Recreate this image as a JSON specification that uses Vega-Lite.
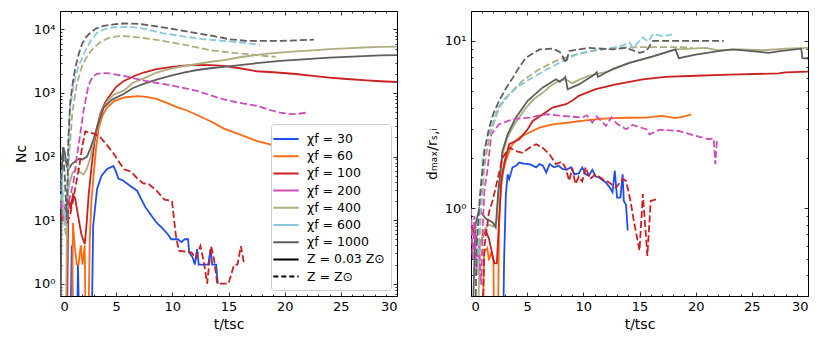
{
"$schema": "https://vega.github.io/schema/vega-lite/v6.json",
"background": "white",
"padding": {"left": 13, "top": 10, "right": 5, "bottom": 5},
"spacing": 26,
"config": {
  "view": {"stroke": "black", "strokeWidth": 1},
  "font": "DejaVu Sans",
  "axis": {"labelFont": "DejaVu Sans", "titleFont": "DejaVu Sans", "labelFontSize": 13, "titleFontSize": 14, "titleFontWeight": "normal", "labelColor": "black", "titleColor": "black", "tickColor": "black", "tickWidth": 0.8, "domain": false, "grid": false}
},
"resolve": {"scale": {"x": "independent", "y": "independent", "color": "independent", "strokeDash": "independent"}},
"datasets": {
  "leg": [
    {"c":"30","t":1,"v":1},{"c":"60","t":1,"v":1},{"c":"100","t":1,"v":1},{"c":"200","t":1,"v":1},{"c":"400","t":1,"v":1},{"c":"600","t":1,"v":1},{"c":"1000","t":1,"v":1},{"c":"lo","t":1,"v":1},{"c":"sun","t":1,"v":1}
  ],
  "Nlo": [
    {"c":"30","t":0.9,"v":0.1},{"c":"30","t":1.05,"v":4},{"c":"30","t":1.2,"v":0.1},{"c":"30","t":1.5,"v":0.1},{"c":"30","t":1.6,"v":2},{"c":"30","t":1.75,"v":0.1},{"c":"30","t":2.8,"v":0.1},{"c":"30","t":2.95,"v":8},{"c":"30","t":3.3,"v":31},{"c":"30","t":3.7,"v":50},{"c":"30","t":4.2,"v":64},{"c":"30","t":4.75,"v":71},{"c":"30","t":4.95,"v":60},{"c":"30","t":5.2,"v":45},{"c":"30","t":5.6,"v":42},{"c":"30","t":6.2,"v":35},{"c":"30","t":6.86,"v":29},{"c":"30","t":7.2,"v":22},{"c":"30","t":7.6,"v":16},{"c":"30","t":8.1,"v":12},{"c":"30","t":8.6,"v":9.1},{"c":"30","t":9.1,"v":7.5},{"c":"30","t":9.6,"v":6},{"c":"30","t":9.9,"v":5},{"c":"30","t":10.5,"v":5},{"c":"30","t":10.8,"v":4.5},{"c":"30","t":11.1,"v":5},{"c":"30","t":11.4,"v":5},{"c":"30","t":11.5,"v":3.1},{"c":"30","t":11.8,"v":2.6},{"c":"30","t":12.0,"v":2},{"c":"30","t":12.2,"v":3.5},{"c":"30","t":12.35,"v":2},{"c":"30","t":12.9,"v":2},{"c":"30","t":13.2,"v":2},{"c":"30","t":13.4,"v":3.5},{"c":"30","t":13.55,"v":2},{"c":"30","t":13.9,"v":2},{"c":"30","t":14.05,"v":1},
    {"c":"60","t":1.05,"v":0.1},{"c":"60","t":1.15,"v":9},{"c":"60","t":1.3,"v":4},{"c":"60","t":1.5,"v":2},{"c":"60","t":1.65,"v":2},{"c":"60","t":1.85,"v":4},{"c":"60","t":2.0,"v":2},{"c":"60","t":2.2,"v":4},{"c":"60","t":2.3,"v":0.1},{"c":"60","t":2.5,"v":0.1},{"c":"60","t":2.65,"v":5},{"c":"60","t":2.8,"v":20},{"c":"60","t":3.0,"v":53},{"c":"60","t":3.2,"v":130},{"c":"60","t":3.45,"v":288},{"c":"60","t":3.8,"v":450},{"c":"60","t":4.2,"v":590},{"c":"60","t":4.8,"v":740},{"c":"60","t":5.7,"v":850},{"c":"60","t":6.9,"v":890},{"c":"60","t":7.7,"v":870},{"c":"60","t":8.6,"v":810},{"c":"60","t":9.5,"v":700},{"c":"60","t":10.4,"v":600},{"c":"60","t":11.3,"v":530},{"c":"60","t":12.2,"v":450},{"c":"60","t":13.4,"v":360},{"c":"60","t":14.6,"v":275},{"c":"60","t":15.5,"v":240},{"c":"60","t":16.4,"v":210},{"c":"60","t":17.5,"v":176},{"c":"60","t":18.7,"v":155},{"c":"60","t":19.6,"v":138},{"c":"60","t":19.8,"v":130},
    {"c":"100","t":0.6,"v":0.1},{"c":"100","t":0.75,"v":25},{"c":"100","t":0.95,"v":15},{"c":"100","t":1.15,"v":25},{"c":"100","t":1.35,"v":22},{"c":"100","t":1.6,"v":12},{"c":"100","t":1.9,"v":6},{"c":"100","t":2.2,"v":4.2},{"c":"100","t":2.35,"v":8},{"c":"100","t":2.55,"v":25},{"c":"100","t":2.8,"v":67},{"c":"100","t":3.05,"v":160},{"c":"100","t":3.3,"v":290},{"c":"100","t":3.6,"v":480},{"c":"100","t":4.0,"v":700},{"c":"100","t":4.5,"v":950},{"c":"100","t":5.0,"v":1250},{"c":"100","t":5.7,"v":1550},{"c":"100","t":6.6,"v":1850},{"c":"100","t":7.45,"v":2100},{"c":"100","t":8.5,"v":2350},{"c":"100","t":9.8,"v":2550},{"c":"100","t":11.0,"v":2700},{"c":"100","t":12.2,"v":2760},{"c":"100","t":13.4,"v":2750},{"c":"100","t":14.6,"v":2680},{"c":"100","t":16.0,"v":2450},{"c":"100","t":17.5,"v":2200},{"c":"100","t":19.0,"v":2120},{"c":"100","t":21.0,"v":1990},{"c":"100","t":22.5,"v":1860},{"c":"100","t":24.0,"v":1740},{"c":"100","t":25.5,"v":1660},{"c":"100","t":27.0,"v":1590},{"c":"100","t":28.5,"v":1530},{"c":"100","t":30.0,"v":1490},
    {"c":"400","t":0.5,"v":0.1},{"c":"400","t":0.65,"v":20},{"c":"400","t":0.8,"v":35},{"c":"400","t":1.1,"v":55},{"c":"400","t":1.5,"v":65},{"c":"400","t":1.8,"v":56},{"c":"400","t":2.1,"v":52},{"c":"400","t":2.4,"v":65},{"c":"400","t":2.7,"v":96},{"c":"400","t":3.0,"v":170},{"c":"400","t":3.3,"v":290},{"c":"400","t":3.56,"v":430},{"c":"400","t":3.86,"v":590},{"c":"400","t":4.3,"v":780},{"c":"400","t":4.75,"v":930},{"c":"400","t":5.7,"v":1100},{"c":"400","t":6.5,"v":1450},{"c":"400","t":7.45,"v":1700},{"c":"400","t":8.6,"v":2100},{"c":"400","t":9.8,"v":2400},{"c":"400","t":11.0,"v":2650},{"c":"400","t":12.2,"v":2860},{"c":"400","t":13.4,"v":3100},{"c":"400","t":14.6,"v":3300},{"c":"400","t":16.0,"v":3650},{"c":"400","t":17.5,"v":3970},{"c":"400","t":19.0,"v":4250},{"c":"400","t":21.0,"v":4500},{"c":"400","t":22.5,"v":4700},{"c":"400","t":24.0,"v":4900},{"c":"400","t":25.5,"v":5050},{"c":"400","t":27.0,"v":5200},{"c":"400","t":28.5,"v":5300},{"c":"400","t":30.0,"v":5350},
    {"c":"1000","t":0.05,"v":0.1},{"c":"1000","t":0.15,"v":60},{"c":"1000","t":0.3,"v":140},{"c":"1000","t":0.45,"v":110},{"c":"1000","t":0.6,"v":70},{"c":"1000","t":0.75,"v":63},{"c":"1000","t":1.07,"v":77},{"c":"1000","t":1.4,"v":85},{"c":"1000","t":1.66,"v":92},{"c":"1000","t":2.0,"v":90},{"c":"1000","t":2.4,"v":100},{"c":"1000","t":2.67,"v":130},{"c":"1000","t":3.0,"v":190},{"c":"1000","t":3.4,"v":330},{"c":"1000","t":3.9,"v":590},{"c":"1000","t":4.6,"v":780},{"c":"1000","t":5.7,"v":970},{"c":"1000","t":6.5,"v":1200},{"c":"1000","t":7.45,"v":1390},{"c":"1000","t":8.6,"v":1620},{"c":"1000","t":9.8,"v":1860},{"c":"1000","t":11.0,"v":2100},{"c":"1000","t":12.2,"v":2300},{"c":"1000","t":13.4,"v":2450},{"c":"1000","t":14.6,"v":2570},{"c":"1000","t":16.0,"v":2750},{"c":"1000","t":17.5,"v":2940},{"c":"1000","t":19.6,"v":3200},{"c":"1000","t":21.0,"v":3330},{"c":"1000","t":22.6,"v":3470},{"c":"1000","t":24.0,"v":3600},{"c":"1000","t":25.5,"v":3700},{"c":"1000","t":27.0,"v":3800},{"c":"1000","t":28.5,"v":3900},{"c":"1000","t":30.0,"v":3950}
  ],
  "Nsun": [
    {"c":"100","t":0.05,"v":12},{"c":"100","t":0.3,"v":10},{"c":"100","t":0.6,"v":9},{"c":"100","t":0.9,"v":12},{"c":"100","t":1.15,"v":20},{"c":"100","t":1.4,"v":35},{"c":"100","t":1.7,"v":67},{"c":"100","t":1.96,"v":138},{"c":"100","t":2.25,"v":250},{"c":"100","t":2.6,"v":240},{"c":"100","t":3.0,"v":230},{"c":"100","t":3.6,"v":200},{"c":"100","t":4.2,"v":150},{"c":"100","t":4.8,"v":110},{"c":"100","t":5.3,"v":80},{"c":"100","t":5.7,"v":63},{"c":"100","t":6.3,"v":58},{"c":"100","t":6.9,"v":45},{"c":"100","t":7.4,"v":38},{"c":"100","t":7.9,"v":37},{"c":"100","t":8.6,"v":29},{"c":"100","t":9.3,"v":21},{"c":"100","t":9.97,"v":20},{"c":"100","t":10.3,"v":6},{"c":"100","t":10.57,"v":3.3},{"c":"100","t":11.7,"v":3.1},{"c":"100","t":12.1,"v":2.5},{"c":"100","t":12.5,"v":3.9},{"c":"100","t":12.8,"v":2.2},{"c":"100","t":13.1,"v":1},{"c":"100","t":13.45,"v":3.9},{"c":"100","t":13.7,"v":2.5},{"c":"100","t":14.0,"v":1},{"c":"100","t":15.0,"v":1},{"c":"100","t":15.5,"v":2},{"c":"100","t":15.8,"v":2},{"c":"100","t":16.1,"v":3.9},{"c":"100","t":16.4,"v":2},
    {"c":"200","t":0.0,"v":15},{"c":"200","t":0.15,"v":25},{"c":"200","t":0.3,"v":10},{"c":"200","t":0.45,"v":18},{"c":"200","t":0.6,"v":12},{"c":"200","t":0.8,"v":20},{"c":"200","t":1.2,"v":40},{"c":"200","t":1.5,"v":100},{"c":"200","t":1.8,"v":225},{"c":"200","t":2.1,"v":525},{"c":"200","t":2.5,"v":1230},{"c":"200","t":2.7,"v":1550},{"c":"200","t":3.0,"v":1850},{"c":"200","t":3.3,"v":2000},{"c":"200","t":3.8,"v":2050},{"c":"200","t":4.2,"v":2050},{"c":"200","t":5.0,"v":1950},{"c":"200","t":5.7,"v":1860},{"c":"200","t":6.6,"v":1700},{"c":"200","t":7.6,"v":1550},{"c":"200","t":8.5,"v":1450},{"c":"200","t":9.4,"v":1370},{"c":"200","t":10.8,"v":1220},{"c":"200","t":12.2,"v":1080},{"c":"200","t":13.4,"v":920},{"c":"200","t":14.6,"v":790},{"c":"200","t":16.0,"v":700},{"c":"200","t":17.5,"v":630},{"c":"200","t":18.7,"v":540},{"c":"200","t":19.6,"v":490},{"c":"200","t":20.5,"v":465},{"c":"200","t":21.2,"v":470},{"c":"200","t":21.9,"v":490},
    {"c":"400","t":0.0,"v":20},{"c":"400","t":0.2,"v":25},{"c":"400","t":0.4,"v":8},{"c":"400","t":0.6,"v":5},{"c":"400","t":0.8,"v":100},{"c":"400","t":1.1,"v":500},{"c":"400","t":1.5,"v":1400},{"c":"400","t":2.0,"v":2800},{"c":"400","t":2.55,"v":4100},{"c":"400","t":3.0,"v":5200},{"c":"400","t":3.6,"v":6300},{"c":"400","t":4.2,"v":7200},{"c":"400","t":4.9,"v":7700},{"c":"400","t":5.6,"v":7900},{"c":"400","t":6.3,"v":7700},{"c":"400","t":7.2,"v":7400},{"c":"400","t":8.3,"v":7000},{"c":"400","t":9.8,"v":6300},{"c":"400","t":11.6,"v":5500},{"c":"400","t":13.4,"v":4700},{"c":"400","t":15.1,"v":4350},{"c":"400","t":16.6,"v":4100},{"c":"400","t":18.1,"v":3850},{"c":"400","t":19.2,"v":3700},
    {"c":"600","t":0.0,"v":20},{"c":"600","t":0.15,"v":60},{"c":"600","t":0.3,"v":20},{"c":"600","t":0.5,"v":8},{"c":"600","t":0.7,"v":40},{"c":"600","t":0.85,"v":500},{"c":"600","t":1.2,"v":1300},{"c":"600","t":1.6,"v":2500},{"c":"600","t":2.25,"v":4600},{"c":"600","t":2.7,"v":6500},{"c":"600","t":3.3,"v":8900},{"c":"600","t":3.86,"v":9900},{"c":"600","t":4.45,"v":10700},{"c":"600","t":6.0,"v":11000},{"c":"600","t":7.0,"v":10600},{"c":"600","t":7.7,"v":10000},{"c":"600","t":9.2,"v":8700},{"c":"600","t":10.7,"v":7900},{"c":"600","t":12.8,"v":7000},{"c":"600","t":15.1,"v":6500},{"c":"600","t":16.9,"v":6000},{"c":"600","t":17.8,"v":5700},
    {"c":"1000","t":0.05,"v":30},{"c":"1000","t":0.25,"v":140},{"c":"1000","t":0.45,"v":40},{"c":"1000","t":0.6,"v":10},{"c":"1000","t":0.75,"v":200},{"c":"1000","t":0.92,"v":750},{"c":"1000","t":1.15,"v":1500},{"c":"1000","t":1.37,"v":2500},{"c":"1000","t":1.65,"v":4000},{"c":"1000","t":1.96,"v":5900},{"c":"1000","t":2.3,"v":7500},{"c":"1000","t":2.7,"v":8900},{"c":"1000","t":3.2,"v":10300},{"c":"1000","t":3.9,"v":11400},{"c":"1000","t":4.8,"v":12000},{"c":"1000","t":5.7,"v":12400},{"c":"1000","t":7.1,"v":12200},{"c":"1000","t":8.3,"v":11400},{"c":"1000","t":10.1,"v":10100},{"c":"1000","t":11.9,"v":8900},{"c":"1000","t":13.6,"v":7900},{"c":"1000","t":15.1,"v":7000},{"c":"1000","t":16.6,"v":6600},{"c":"1000","t":19.6,"v":6600},{"c":"1000","t":22.6,"v":6900}
  ],
  "Dlo": [
    {"c":"30","t":2.8,"v":0.1},{"c":"30","t":2.95,"v":0.5},{"c":"30","t":3.1,"v":1.2},{"c":"30","t":3.26,"v":1.6},{"c":"30","t":3.4,"v":1.5},{"c":"30","t":3.7,"v":1.76},{"c":"30","t":4.0,"v":1.8},{"c":"30","t":4.3,"v":1.88},{"c":"30","t":4.7,"v":1.85},{"c":"30","t":5.2,"v":1.84},{"c":"30","t":5.5,"v":1.8},{"c":"30","t":5.8,"v":1.76},{"c":"30","t":6.1,"v":1.84},{"c":"30","t":6.4,"v":1.8},{"c":"30","t":6.7,"v":1.64},{"c":"30","t":7.0,"v":1.84},{"c":"30","t":7.4,"v":1.76},{"c":"30","t":7.8,"v":1.8},{"c":"30","t":8.15,"v":1.72},{"c":"30","t":8.5,"v":1.7},{"c":"30","t":8.9,"v":1.76},{"c":"30","t":9.2,"v":1.6},{"c":"30","t":9.6,"v":1.62},{"c":"30","t":9.9,"v":1.76},{"c":"30","t":10.2,"v":1.6},{"c":"30","t":10.5,"v":1.57},{"c":"30","t":10.8,"v":1.7},{"c":"30","t":11.1,"v":1.55},{"c":"30","t":11.4,"v":1.53},{"c":"30","t":12.0,"v":1.43},{"c":"30","t":12.3,"v":1.35},{"c":"30","t":12.6,"v":1.25},{"c":"30","t":12.8,"v":1.68},{"c":"30","t":13.0,"v":1.16},{"c":"30","t":13.3,"v":1.16},{"c":"30","t":13.5,"v":1.6},{"c":"30","t":13.6,"v":1.11},{"c":"30","t":13.8,"v":1.05},{"c":"30","t":13.95,"v":0.74},
    {"c":"60","t":1.0,"v":0.1},{"c":"60","t":1.15,"v":0.55},{"c":"60","t":1.45,"v":0.58},{"c":"60","t":1.6,"v":0.49},{"c":"60","t":1.8,"v":0.55},{"c":"60","t":2.0,"v":0.48},{"c":"60","t":2.1,"v":0.1},{"c":"60","t":2.35,"v":0.1},{"c":"60","t":2.5,"v":0.8},{"c":"60","t":2.67,"v":1.33},{"c":"60","t":2.9,"v":1.7},{"c":"60","t":3.1,"v":1.92},{"c":"60","t":3.4,"v":2.2},{"c":"60","t":3.7,"v":2.42},{"c":"60","t":4.3,"v":2.65},{"c":"60","t":5.2,"v":2.84},{"c":"60","t":6.1,"v":3.04},{"c":"60","t":7.26,"v":3.18},{"c":"60","t":8.75,"v":3.26},{"c":"60","t":10.2,"v":3.36},{"c":"60","t":11.4,"v":3.42},{"c":"60","t":12.6,"v":3.46},{"c":"60","t":14.0,"v":3.48},{"c":"60","t":15.6,"v":3.49},{"c":"60","t":17.0,"v":3.57},{"c":"60","t":18.2,"v":3.46},{"c":"60","t":19.0,"v":3.55},{"c":"60","t":19.6,"v":3.65},
    {"c":"100","t":0.0,"v":0.8},{"c":"100","t":0.3,"v":0.7},{"c":"100","t":0.8,"v":0.62},{"c":"100","t":1.3,"v":0.74},{"c":"100","t":1.6,"v":0.66},{"c":"100","t":1.8,"v":0.57},{"c":"100","t":2.08,"v":0.47},{"c":"100","t":2.3,"v":0.47},{"c":"100","t":2.5,"v":0.85},{"c":"100","t":2.7,"v":1.5},{"c":"100","t":3.0,"v":1.92},{"c":"100","t":3.4,"v":2.42},{"c":"100","t":4.3,"v":2.59},{"c":"100","t":5.04,"v":2.97},{"c":"100","t":5.5,"v":3.33},{"c":"100","t":6.4,"v":3.65},{"c":"100","t":7.26,"v":4.0},{"c":"100","t":8.45,"v":4.19},{"c":"100","t":9.0,"v":4.39},{"c":"100","t":9.6,"v":4.7},{"c":"100","t":11.1,"v":5.15},{"c":"100","t":12.9,"v":5.5},{"c":"100","t":15.3,"v":5.9},{"c":"100","t":17.3,"v":6.1},{"c":"100","t":20.0,"v":6.2},{"c":"100","t":23.0,"v":6.3},{"c":"100","t":27.4,"v":6.4},{"c":"100","t":28.0,"v":6.5},{"c":"100","t":30.0,"v":6.56},
    {"c":"400","t":0.5,"v":0.1},{"c":"400","t":0.8,"v":0.6},{"c":"400","t":1.2,"v":0.75},{"c":"400","t":1.6,"v":0.8},{"c":"400","t":2.0,"v":0.78},{"c":"400","t":2.3,"v":0.85},{"c":"400","t":2.5,"v":1.4},{"c":"400","t":2.8,"v":2.1},{"c":"400","t":3.2,"v":2.6},{"c":"400","t":3.7,"v":3.04},{"c":"400","t":4.3,"v":3.5},{"c":"400","t":4.9,"v":4.0},{"c":"400","t":5.6,"v":4.5},{"c":"400","t":6.37,"v":4.9},{"c":"400","t":7.1,"v":5.4},{"c":"400","t":7.86,"v":5.8},{"c":"400","t":8.45,"v":5.9},{"c":"400","t":9.0,"v":5.6},{"c":"400","t":9.7,"v":5.9},{"c":"400","t":10.5,"v":6.2},{"c":"400","t":12.3,"v":6.6},{"c":"400","t":14.1,"v":7.4},{"c":"400","t":16.2,"v":8.1},{"c":"400","t":18.2,"v":8.9},{"c":"400","t":19.5,"v":9.0},{"c":"400","t":20.9,"v":9.1},{"c":"400","t":22.0,"v":8.8},{"c":"400","t":24.0,"v":8.9},{"c":"400","t":26.0,"v":8.8},{"c":"400","t":28.0,"v":9.0},{"c":"400","t":30.0,"v":9.1},
    {"c":"1000","t":0.0,"v":0.1},{"c":"1000","t":0.4,"v":0.8},{"c":"1000","t":0.74,"v":1.0},{"c":"1000","t":0.9,"v":0.95},{"c":"1000","t":1.3,"v":0.87},{"c":"1000","t":1.6,"v":0.85},{"c":"1000","t":1.93,"v":0.825},{"c":"1000","t":2.2,"v":0.77},{"c":"1000","t":2.4,"v":1.2},{"c":"1000","t":2.6,"v":1.6},{"c":"1000","t":2.8,"v":2.2},{"c":"1000","t":3.26,"v":2.77},{"c":"1000","t":4.0,"v":3.49},{"c":"1000","t":5.04,"v":4.39},{"c":"1000","t":6.37,"v":5.26},{"c":"1000","t":7.56,"v":5.9},{"c":"1000","t":7.9,"v":5.7},{"c":"1000","t":8.4,"v":6.1},{"c":"1000","t":8.6,"v":5.15},{"c":"1000","t":9.6,"v":5.5},{"c":"1000","t":11.0,"v":6.3},{"c":"1000","t":11.2,"v":6.5},{"c":"1000","t":11.3,"v":6.1},{"c":"1000","t":12.6,"v":6.8},{"c":"1000","t":14.1,"v":7.4},{"c":"1000","t":16.2,"v":8.1},{"c":"1000","t":18.2,"v":8.9},{"c":"1000","t":18.5,"v":7.9},{"c":"1000","t":20.0,"v":8.3},{"c":"1000","t":22.0,"v":8.7},{"c":"1000","t":23.3,"v":8.9},{"c":"1000","t":25.0,"v":8.7},{"c":"1000","t":26.5,"v":8.5},{"c":"1000","t":27.5,"v":8.7},{"c":"1000","t":29.4,"v":9.0},{"c":"1000","t":29.5,"v":7.9},{"c":"1000","t":30.0,"v":7.85}
  ],
  "Dsun": [
    {"c":"100","t":0.9,"v":0.1},{"c":"100","t":1.2,"v":0.6},{"c":"100","t":1.6,"v":0.95},{"c":"100","t":1.9,"v":1.1},{"c":"100","t":2.2,"v":1.33},{"c":"100","t":2.8,"v":2.0},{"c":"100","t":3.4,"v":2.31},{"c":"100","t":4.0,"v":2.2},{"c":"100","t":4.6,"v":2.15},{"c":"100","t":5.2,"v":2.3},{"c":"100","t":5.8,"v":2.42},{"c":"100","t":6.4,"v":2.3},{"c":"100","t":7.0,"v":2.1},{"c":"100","t":7.56,"v":1.84},{"c":"100","t":8.1,"v":1.9},{"c":"100","t":8.4,"v":1.75},{"c":"100","t":8.75,"v":1.46},{"c":"100","t":9.0,"v":1.75},{"c":"100","t":9.3,"v":1.4},{"c":"100","t":9.6,"v":1.55},{"c":"100","t":9.9,"v":1.45},{"c":"100","t":10.2,"v":1.76},{"c":"100","t":10.6,"v":1.5},{"c":"100","t":11.1,"v":1.6},{"c":"100","t":11.7,"v":1.5},{"c":"100","t":12.3,"v":1.43},{"c":"100","t":12.9,"v":1.33},{"c":"100","t":13.5,"v":1.5},{"c":"100","t":13.8,"v":1.46},{"c":"100","t":14.2,"v":1.11},{"c":"100","t":14.5,"v":0.84},{"c":"100","t":15.0,"v":0.56},{"c":"100","t":15.3,"v":1.22},{"c":"100","t":15.7,"v":0.52},{"c":"100","t":16.0,"v":1.11},{"c":"100","t":16.6,"v":1.14},
    {"c":"200","t":0.0,"v":1.0},{"c":"200","t":0.15,"v":0.5},{"c":"200","t":0.3,"v":0.9},{"c":"200","t":0.5,"v":0.4},{"c":"200","t":0.7,"v":0.6},{"c":"200","t":0.9,"v":0.35},{"c":"200","t":1.05,"v":0.8},{"c":"200","t":1.2,"v":1.3},{"c":"200","t":1.5,"v":1.76},{"c":"200","t":1.8,"v":2.77},{"c":"200","t":2.5,"v":3.18},{"c":"200","t":3.7,"v":3.41},{"c":"200","t":5.2,"v":3.49},{"c":"200","t":6.7,"v":3.65},{"c":"200","t":8.15,"v":3.57},{"c":"200","t":9.9,"v":3.49},{"c":"200","t":10.3,"v":3.6},{"c":"200","t":10.8,"v":3.26},{"c":"200","t":11.2,"v":3.55},{"c":"200","t":12.0,"v":3.11},{"c":"200","t":12.5,"v":3.5},{"c":"200","t":13.0,"v":3.2},{"c":"200","t":13.8,"v":2.97},{"c":"200","t":14.4,"v":3.15},{"c":"200","t":15.6,"v":2.97},{"c":"200","t":15.9,"v":2.77},{"c":"200","t":16.8,"v":2.95},{"c":"200","t":18.5,"v":2.9},{"c":"200","t":20.0,"v":2.71},{"c":"200","t":21.2,"v":2.59},{"c":"200","t":21.6,"v":2.62},{"c":"200","t":21.75,"v":1.84},{"c":"200","t":21.9,"v":2.59},
    {"c":"400","t":0.6,"v":0.4},{"c":"400","t":0.9,"v":1.0},{"c":"400","t":1.2,"v":1.8},{"c":"400","t":1.5,"v":2.4},{"c":"400","t":1.9,"v":3.04},{"c":"400","t":2.5,"v":4.0},{"c":"400","t":3.4,"v":4.8},{"c":"400","t":4.6,"v":5.8},{"c":"400","t":6.1,"v":6.8},{"c":"400","t":7.56,"v":7.6},{"c":"400","t":9.3,"v":8.3},{"c":"400","t":10.8,"v":8.7},{"c":"400","t":12.6,"v":9.1},{"c":"400","t":15.6,"v":9.2},{"c":"400","t":18.5,"v":9.2},{"c":"400","t":19.7,"v":9.1},
    {"c":"600","t":0.5,"v":0.4},{"c":"600","t":0.8,"v":1.0},{"c":"600","t":1.04,"v":2.0},{"c":"600","t":1.2,"v":2.3},{"c":"600","t":1.5,"v":2.7},{"c":"600","t":1.8,"v":3.04},{"c":"600","t":2.4,"v":4.0},{"c":"600","t":3.1,"v":4.6},{"c":"600","t":4.3,"v":5.4},{"c":"600","t":5.2,"v":5.9},{"c":"600","t":7.0,"v":6.9},{"c":"600","t":8.75,"v":7.95},{"c":"600","t":9.6,"v":8.4},{"c":"600","t":10.5,"v":8.7},{"c":"600","t":12.6,"v":9.1},{"c":"600","t":13.5,"v":9.4},{"c":"600","t":14.1,"v":9.8},{"c":"600","t":14.4,"v":9.1},{"c":"600","t":15.3,"v":10.5},{"c":"600","t":15.8,"v":9.9},{"c":"600","t":16.2,"v":11.0},{"c":"600","t":17.0,"v":10.7},{"c":"600","t":17.9,"v":10.9},
    {"c":"1000","t":0.3,"v":0.1},{"c":"1000","t":0.5,"v":0.6},{"c":"1000","t":0.8,"v":1.2},{"c":"1000","t":1.2,"v":2.2},{"c":"1000","t":1.6,"v":3.0},{"c":"1000","t":2.0,"v":3.7},{"c":"1000","t":2.5,"v":4.39},{"c":"1000","t":3.1,"v":5.2},{"c":"1000","t":3.7,"v":6.0},{"c":"1000","t":4.3,"v":7.0},{"c":"1000","t":4.9,"v":7.95},{"c":"1000","t":6.1,"v":8.9},{"c":"1000","t":7.26,"v":9.0},{"c":"1000","t":7.9,"v":8.6},{"c":"1000","t":8.15,"v":8.1},{"c":"1000","t":8.45,"v":7.4},{"c":"1000","t":8.75,"v":8.7},{"c":"1000","t":9.6,"v":8.9},{"c":"1000","t":10.5,"v":9.1},{"c":"1000","t":12.6,"v":8.9},{"c":"1000","t":13.8,"v":9.1},{"c":"1000","t":15.0,"v":8.5},{"c":"1000","t":15.6,"v":8.7},{"c":"1000","t":16.2,"v":10.0},{"c":"1000","t":18.5,"v":10.0},{"c":"1000","t":22.5,"v":10.0}
  ]
},
"hconcat": [
  {
    "width": 337, "height": 285,
    "resolve": {"axis": {"x": "independent", "y": "independent"}},
    "layer": [
      {
        "data": {"name": "Nlo"},
        "mark": {"type": "line", "clip": true, "strokeWidth": 1.8},
        "encoding": {
          "x": {"field": "t", "type": "quantitative", "scale": {"domain": [0, 30], "nice": false, "zero": false}, "axis": {"orient": "bottom", "values": [0,5,10,15,20,25,30], "tickSize": -4, "labelPadding": 8, "title": "t/tsc", "titlePadding": 4}},
          "y": {"field": "v", "type": "quantitative", "scale": {"type": "log", "domain": [0.64, 19500], "nice": false}, "axis": {"orient": "left", "values": [1,10,100,1000,10000], "tickSize": -4, "labelPadding": 9, "labelExpr": "'10' + ['⁰','¹','²','³','⁴'][round(log(datum.value)/LN10)]", "title": "Nc", "titlePadding": 5}},
          "color": {"field": "c", "type": "nominal", "scale": {"domain": ["30","60","100","200","400","600","1000","lo","sun"], "range": ["#1f4ef0","#ff6a13","#cc1f1f","#cc4cbb","#afad80","#88c6e2","#5e5e5e","#000000","#000000"]}}
        }
      },
      {
        "data": {"name": "Nsun"},
        "mark": {"type": "line", "clip": true, "strokeWidth": 1.8, "strokeDash": [7, 3]},
        "encoding": {
          "x": {"field": "t", "type": "quantitative", "axis": {"orient": "top", "values": [0,5,10,15,20,25,30], "tickSize": -4, "labels": false, "title": null}},
          "y": {"field": "v", "type": "quantitative", "axis": {"orient": "right", "values": [1,10,100,1000,10000], "tickSize": -4, "labels": false, "title": null}},
          "color": {"field": "c", "type": "nominal", "scale": {"domain": ["30","60","100","200","400","600","1000","lo","sun"], "range": ["#1f4ef0","#ff6a13","#cc1f1f","#cc4cbb","#afad80","#88c6e2","#5e5e5e","#000000","#000000"]}}
        }
      },
      {
        "data": {"name": "leg"},
        "mark": {"type": "line", "strokeWidth": 2},
        "encoding": {
          "x": {"field": "t", "type": "quantitative", "axis": {"orient": "bottom", "values": [1,2,3,4,6,7,8,9,11,12,13,14,16,17,18,19,21,22,23,24,26,27,28,29], "tickSize": -2, "labels": false, "title": null}},
          "y": {"field": "v", "type": "quantitative", "axis": {"orient": "left", "values": [0.7,0.8,0.9,2,3,4,5,6,7,8,9,20,30,40,50,60,70,80,90,200,300,400,500,600,700,800,900,2000,3000,4000,5000,6000,7000,8000,9000], "tickSize": -2, "labels": false, "title": null}},
          "color": {"field": "c", "type": "nominal", "scale": {"domain": ["30","60","100","200","400","600","1000","lo","sun"], "range": ["#1f4ef0","#ff6a13","#cc1f1f","#cc4cbb","#afad80","#88c6e2","#5e5e5e","#000000","#000000"]},
            "legend": {"title": null, "orient": "bottom-right", "offset": 6, "symbolType": "M-1.6,0H1.6", "symbolSize": 250, "symbolStrokeWidth": 2, "labelFontSize": 12.5, "labelFont": "DejaVu Sans", "labelColor": "black", "fillColor": "white", "strokeColor": "#cccccc", "padding": 6, "cornerRadius": 3, "rowPadding": 1.2, "labelOffset": 12,
              "labelExpr": "datum.label == 'lo' ? 'Z = 0.03 Z⊙' : datum.label == 'sun' ? 'Z = Z⊙' : 'χf = ' + datum.label"}},
          "strokeDash": {"field": "c", "type": "nominal", "scale": {"domain": ["30","60","100","200","400","600","1000","lo","sun"], "range": [[1,0],[1,0],[1,0],[1,0],[1,0],[1,0],[1,0],[1,0],[5,3]]},
            "legend": {"title": null, "orient": "bottom-right", "offset": 6, "symbolType": "M-1.6,0H1.6", "symbolSize": 250, "symbolStrokeWidth": 2, "labelFontSize": 12.5, "labelFont": "DejaVu Sans", "labelColor": "black", "fillColor": "white", "strokeColor": "#cccccc", "padding": 6, "cornerRadius": 3, "rowPadding": 1.2, "labelOffset": 12,
              "labelExpr": "datum.label == 'lo' ? 'Z = 0.03 Z⊙' : datum.label == 'sun' ? 'Z = Z⊙' : 'χf = ' + datum.label"}}
        }
      },
      {
        "data": {"name": "leg"},
        "mark": {"type": "line", "strokeWidth": 0.1, "opacity": 0},
        "encoding": {
          "x": {"field": "t", "type": "quantitative", "axis": {"orient": "top", "values": [1,2,3,4,6,7,8,9,11,12,13,14,16,17,18,19,21,22,23,24,26,27,28,29], "tickSize": -2, "labels": false, "title": null}},
          "y": {"field": "v", "type": "quantitative", "axis": {"orient": "right", "values": [0.7,0.8,0.9,2,3,4,5,6,7,8,9,20,30,40,50,60,70,80,90,200,300,400,500,600,700,800,900,2000,3000,4000,5000,6000,7000,8000,9000], "tickSize": -2, "labels": false, "title": null}}
        }
      }
    ]
  },
  {
    "width": 337, "height": 285,
    "resolve": {"axis": {"x": "independent", "y": "independent"}},
    "layer": [
      {
        "data": {"name": "Dlo"},
        "mark": {"type": "line", "clip": true, "strokeWidth": 1.8},
        "encoding": {
          "x": {"field": "t", "type": "quantitative", "scale": {"domain": [0, 30], "nice": false, "zero": false}, "axis": {"orient": "bottom", "values": [0,5,10,15,20,25,30], "tickSize": -4, "labelPadding": 8, "title": "t/tsc", "titlePadding": 4}},
          "y": {"field": "v", "type": "quantitative", "scale": {"type": "log", "domain": [0.30, 15.1], "nice": false}, "axis": {"orient": "left", "values": [1,10], "tickSize": -4, "labelPadding": 9, "labelExpr": "'10' + ['⁰','¹','²','³','⁴'][round(log(datum.value)/LN10)]", "title": "dₘₐₓ/rₛ,ᵢ", "titlePadding": 5}},
          "color": {"field": "c", "type": "nominal", "scale": {"domain": ["30","60","100","200","400","600","1000","lo","sun"], "range": ["#1f4ef0","#ff6a13","#cc1f1f","#cc4cbb","#afad80","#88c6e2","#5e5e5e","#000000","#000000"]}, "legend": null}
        }
      },
      {
        "data": {"name": "Dsun"},
        "mark": {"type": "line", "clip": true, "strokeWidth": 1.8, "strokeDash": [7, 3]},
        "encoding": {
          "x": {"field": "t", "type": "quantitative", "axis": {"orient": "top", "values": [0,5,10,15,20,25,30], "tickSize": -4, "labels": false, "title": null}},
          "y": {"field": "v", "type": "quantitative", "axis": {"orient": "right", "values": [1,10], "tickSize": -4, "labels": false, "title": null}},
          "color": {"field": "c", "type": "nominal", "scale": {"domain": ["30","60","100","200","400","600","1000","lo","sun"], "range": ["#1f4ef0","#ff6a13","#cc1f1f","#cc4cbb","#afad80","#88c6e2","#5e5e5e","#000000","#000000"]}, "legend": null}
        }
      },
      {
        "data": {"name": "leg"},
        "mark": {"type": "line", "strokeWidth": 0.1, "opacity": 0},
        "encoding": {
          "x": {"field": "t", "type": "quantitative", "axis": {"orient": "bottom", "values": [1,2,3,4,6,7,8,9,11,12,13,14,16,17,18,19,21,22,23,24,26,27,28,29], "tickSize": -2, "labels": false, "title": null}},
          "y": {"field": "v", "type": "quantitative", "axis": {"orient": "left", "values": [0.3,0.4,0.5,0.6,0.7,0.8,0.9,2,3,4,5,6,7,8,9], "tickSize": -2, "labels": false, "title": null}}
        }
      },
      {
        "data": {"name": "leg"},
        "mark": {"type": "line", "strokeWidth": 0.1, "opacity": 0},
        "encoding": {
          "x": {"field": "t", "type": "quantitative", "axis": {"orient": "top", "values": [1,2,3,4,6,7,8,9,11,12,13,14,16,17,18,19,21,22,23,24,26,27,28,29], "tickSize": -2, "labels": false, "title": null}},
          "y": {"field": "v", "type": "quantitative", "axis": {"orient": "right", "values": [0.3,0.4,0.5,0.6,0.7,0.8,0.9,2,3,4,5,6,7,8,9], "tickSize": -2, "labels": false, "title": null}}
        }
      }
    ]
  }
]
}
